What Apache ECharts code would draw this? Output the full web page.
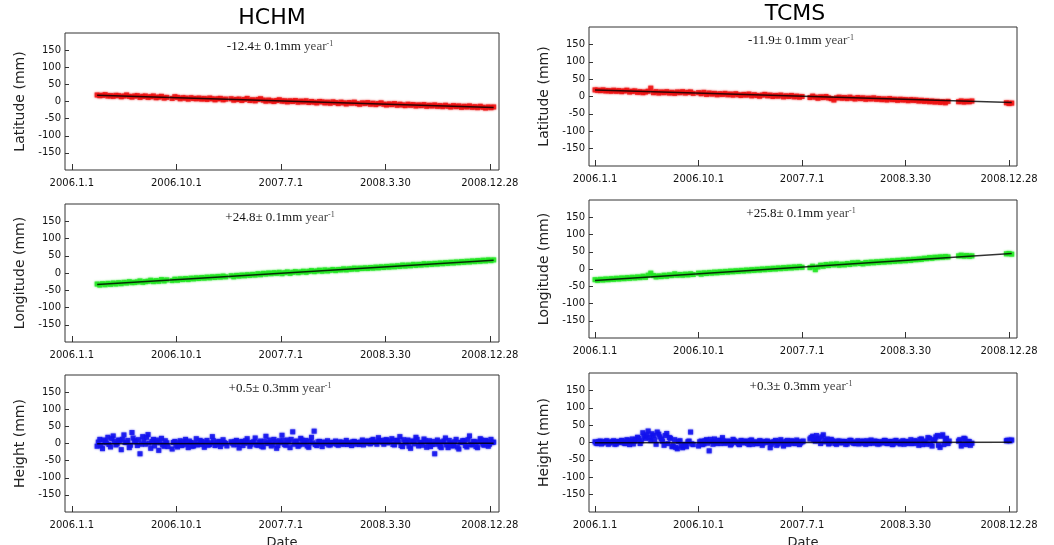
<!DOCTYPE html>
<html>
<head>
<meta charset="utf-8">
<script src="https://cdn.jsdelivr.net/npm/echarts@6/dist/echarts.min.js"></script>
<style>
  html, body { margin: 0; padding: 0; background: #fff; }
  #chart { width: 1054px; height: 545px; }
</style>
</head>
<body>
<div id="chart"></div>
<script>
// Dates are stored as days since 2006-01-01.
const tickDays = [0, 273, 546, 819, 1092];
const tickLabels = ['2006.1.1', '2006.10.1', '2007.7.1', '2008.3.30', '2008.12.28'];
const yTicks = [-150, -100, -50, 0, 50, 100, 150];
const stations = ['HCHM', 'TCMS'];
const components = ['Latitude (mm)', 'Longitude (mm)', 'Height (mm)'];

// ---- HCHM solutions, mm ----
const hchmDays = [
  66,73,80,87,94,101,108,115,122,129,
  136,143,150,157,164,171,178,185,192,199,
  206,213,220,227,234,241,248,
  262,269,
  276,283,290,297,304,311,318,325,332,339,
  346,353,360,367,374,381,388,395,402,
  416,423,430,437,444,451,458,465,472,479,
  486,493,500,507,514,521,528,535,542,549,
  556,563,570,577,584,591,598,605,612,619,
  626,633,640,647,654,661,668,675,682,689,
  696,703,710,717,724,731,738,745,752,759,
  766,773,780,787,794,801,808,815,822,829,
  836,843,850,857,864,871,878,885,892,899,
  906,913,920,927,934,941,948,955,962,969,
  976,983,990,997,1004,1011,1018,1025,1032,1039,
  1046,1053,1060,1067,1074,1081,1088,1095,1102
];
const hchmLat = [
  19,17,18,20,16,17,15,18,17,14,
  16,19,15,13,16,17,12,15,16,12,
  14,16,11,13,15,10,12,
  9,14,
  12,8,11,10,7,11,9,8,10,7,
  9,6,10,8,5,8,9,5,7,
  8,4,6,7,3,6,9,3,5,2,
  6,8,4,1,4,2,0,3,5,1,
  2,-1,2,0,3,-2,1,-1,2,-3,
  0,-2,-4,0,-1,-4,-2,-5,-1,-3,
  -6,-2,-4,-7,-3,-5,-2,-6,-8,-4,
  -6,-3,-8,-5,-9,-6,-4,-8,-10,-7,
  -9,-6,-11,-8,-10,-12,-8,-11,-9,-13,
  -10,-12,-9,-14,-11,-13,-10,-14,-12,-15,
  -11,-14,-16,-12,-15,-13,-17,-14,-16,-13,
  -17,-15,-18,-14,-17,-19,-16,-18,-16
];
const hchmLon = [
  -32,-35,-31,-34,-30,-33,-29,-32,-28,-31,
  -27,-29,-25,-28,-27,-26,-23,-27,-25,-24,
  -21,-25,-22,-24,-19,-23,-20,
  -22,-18,
  -21,-17,-19,-16,-19,-15,-17,-14,-16,-13,
  -15,-12,-14,-11,-13,-10,-12,-9,-11,
  -8,-11,-7,-9,-6,-8,-5,-7,-4,-6,
  -2,-5,-1,-3,0,-2,1,-1,2,-2,
  1,3,-1,2,4,1,3,5,2,5,
  7,4,6,8,5,9,6,8,10,7,
  10,9,12,9,12,11,14,11,14,13,
  15,13,16,14,17,15,18,16,19,17,
  20,18,21,19,23,20,23,21,25,22,
  25,23,27,24,27,25,28,26,29,27,
  30,28,31,29,32,30,33,31,34,32,
  35,33,36,34,37,35,38,36,38
];
const hchmHgt = [
  -8,12,-15,5,18,-10,22,-4,10,-18,
  25,3,-12,32,8,-6,-30,20,-2,26,
  -14,12,4,-20,15,-8,2,
  -16,6,
  -10,8,-4,12,-12,3,-7,14,-2,6,
  -11,9,-3,20,-6,4,-9,11,0,
  5,-4,9,-13,6,1,14,-8,3,16,
  -5,7,-10,21,2,-7,12,-14,8,24,
  -3,10,-12,34,5,-8,15,-2,9,-11,
  18,36,-6,6,-9,3,8,-4,2,7,
  -5,4,-2,9,1,-6,6,3,-3,10,
  2,7,-1,12,4,17,8,-2,11,5,
  14,-4,8,20,-9,3,10,-14,6,18,
  -7,2,13,-11,8,-3,-30,10,-8,4,
  16,-12,2,-6,12,-16,3,8,-10,22,
  -4,5,-12,14,-2,9,-8,12,4
];
// extra height epochs between the weekly samples
const hchmHgtDays2 = [
  69,76,83,90,97,104,111,118,125,132,
  139,146,153,160,167,174,181,188,195,202,
  209,216,223,230,237,244,251,
  265,272,
  279,286,293,300,307,314,321,328,335,342,
  349,356,363,370,377,384,391,398,405,
  419,426,433,440,447,454,461,468,475,482,
  489,496,503,510,517,524,531,538,545,552,
  559,566,573,580,587,594,601,608,615,622,
  629,636,643,650,657,664,671,678,685,692,
  699,706,713,720,727,734,741,748,755,762,
  769,776,783,790,797,804,811,818,825,832,
  839,846,853,860,867,874,881,888,895,902,
  909,916,923,930,937,944,951,958,965,972,
  979,986,993,1000,1007,1014,1021,1028,1035,1042,
  1049,1056,1063,1070,1077,1084,1091,1098
];
const hchmHgt2 = [
  4,-6,10,2,-3,14,6,-1,8,12,
  3,9,-5,16,5,11,-2,7,18,1,
  6,-7,10,2,-4,8,-9,
  3,-5,
  2,-6,5,-2,7,-8,1,-4,9,-3,
  4,-5,2,8,-3,6,-1,3,-7,
  1,6,-3,4,-6,8,2,-2,5,-4,
  3,-8,6,0,10,-3,5,-6,2,9,
  -5,4,12,-2,7,-4,10,3,-7,6,
  2,-3,5,-1,4,0,-4,3,1,-2,
  4,-1,3,-3,2,5,-2,1,4,-4,
  6,1,9,3,-2,8,4,10,2,7,
  -3,9,5,-6,11,2,-8,7,-1,12,
  3,-5,8,1,-9,6,-2,4,-12,7,
  -4,9,-7,5,-10,3,8,-6,11,-3,
  6,-9,4,10,-5,7,-2,3
];

// ---- TCMS solutions, mm ----
const tcmsDays = [
  0,7,14,21,28,35,42,49,56,63,
  70,77,84,91,98,105,112,119,126,133,
  140,147,154,161,168,175,182,189,196,203,
  210,217,224,231,238,245,252,259,
  273,
  280,287,294,301,308,315,322,329,336,343,
  350,357,364,371,378,385,392,399,406,413,
  420,427,434,441,448,455,462,469,476,483,
  490,497,504,511,518,525,532,539,546,
  567,574,581,588,595,602,609,616,623,
  630,637,644,651,658,665,672,679,686,693,
  700,707,714,721,728,735,742,749,756,763,
  770,777,784,791,798,805,812,819,826,833,
  840,847,854,861,868,875,882,889,896,903,
  910,917,924,931,
  959,966,973,980,987,994,
  1085,1092,1099
];
const tcmsLat = [
  19,18,17,19,16,17,15,18,15,17,
  14,16,18,13,15,16,12,14,11,13,
  15,24,11,14,10,13,11,14,10,12,
  9,13,11,14,10,12,13,9,
  11,
  8,12,6,10,7,9,5,8,6,9,
  5,7,4,8,5,3,6,4,7,2,
  5,3,1,4,6,2,4,0,3,1,
  4,-1,2,0,3,-1,1,-2,0,
  -3,1,-2,-5,-1,-3,0,-4,-6,
  -10,-4,-2,-5,-3,-6,-2,-5,-7,-3,
  -6,-4,-8,-5,-7,-4,-8,-6,-9,-7,
  -10,-6,-9,-8,-11,-8,-10,-9,-12,-9,
  -11,-10,-13,-11,-14,-12,-15,-13,-16,-14,
  -17,-15,-18,-14,
  -15,-13,-16,-14,-15,-13,
  -18,-20,-19
];
const tcmsLon = [
  -31,-33,-30,-32,-29,-31,-28,-30,-27,-29,
  -26,-28,-25,-27,-24,-26,-23,-25,-21,-24,
  -18,-12,-19,-23,-20,-22,-18,-21,-17,-19,
  -14,-18,-16,-18,-15,-17,-14,-16,
  -12,
  -15,-11,-13,-10,-12,-9,-11,-8,-10,-7,
  -9,-6,-8,-5,-7,-4,-6,-3,-5,-2,
  -4,-1,-3,0,-2,1,-1,2,0,3,
  1,4,2,5,3,6,4,7,5,
  4,8,-2,6,11,8,13,10,14,
  12,15,11,14,12,16,13,18,15,19,
  16,15,19,17,20,18,21,19,22,20,
  23,21,24,22,25,23,26,24,27,25,
  28,27,29,28,31,30,33,31,34,33,
  35,34,36,35,
  38,40,37,39,37,38,
  44,45,43
];
const tcmsHgt = [
  2,-3,4,-1,3,-5,1,5,-4,2,
  6,-2,8,-6,10,4,15,-3,28,12,
  33,6,20,-5,24,10,-8,26,14,-12,
  8,-18,5,-15,-8,2,30,-6,
  -10,
  4,-4,8,-24,3,10,-3,6,14,-2,
  4,-7,9,1,-4,6,-1,3,-6,7,
  0,-3,5,-8,2,4,-15,1,6,-4,
  8,-10,3,-5,5,-2,7,-6,2,
  10,18,4,12,-3,22,6,-4,9,
  2,-5,4,0,3,-4,6,1,-3,5,
  -1,4,-5,2,7,-2,3,-4,1,6,
  -3,2,-6,4,0,-4,5,2,-3,8,
  -2,4,-8,10,1,-5,12,-10,6,20,
  -14,22,8,-3,
  4,-10,12,-6,3,-2,
  5,6,7
];
// extra height epochs between the weekly samples
const tcmsHgtDays2 = [
  3,10,17,24,31,38,45,52,59,66,
  73,80,87,94,101,108,115,122,129,136,
  143,150,157,164,171,178,185,192,199,206,
  213,220,227,234,241,248,255,
  276,
  283,290,297,304,311,318,325,332,339,346,
  353,360,367,374,381,388,395,402,409,416,
  423,430,437,444,451,458,465,472,479,486,
  493,500,507,514,521,528,535,542,549,
  570,577,584,591,598,605,612,619,626,
  633,640,647,654,661,668,675,682,689,696,
  703,710,717,724,731,738,745,752,759,766,
  773,780,787,794,801,808,815,822,829,836,
  843,850,857,864,871,878,885,892,899,906,
  913,920,927,934,
  962,969,976,983,990,
  1088,1095
];
const tcmsHgt2 = [
  -2,3,-4,1,5,-1,2,-5,3,0,
  4,-3,6,2,-4,9,12,5,18,22,
  14,25,8,30,16,4,20,-3,12,-9,
  -14,3,-10,-6,-12,4,-4,
  2,
  -6,5,-2,9,-5,2,6,-3,4,-1,
  3,-4,5,1,-6,2,4,-2,6,-5,
  2,-3,4,-1,3,0,-5,2,-8,4,
  1,-4,6,-2,3,-3,2,-1,4,
  14,8,20,6,16,2,10,-2,5,
  -3,4,-1,3,-5,2,6,-2,1,-4,
  3,-2,5,-3,1,4,-4,2,-1,5,
  -2,3,-4,6,-1,2,-5,3,0,-3,
  5,-2,9,-6,4,14,-4,8,16,-8,
  18,-6,12,4,
  8,-4,10,2,-8,
  6,5
];

// Linear velocities (mm/year) with their uncertainties, and fitted value at the first epoch
const hchmRates = [-12.4, 24.8, 0.5];
const hchmRateErr = [0.1, 0.1, 0.3];
const hchmFitStart = [18, -33.5, -0.7];
const tcmsRates = [-11.9, 25.8, 0.3];
const tcmsRateErr = [0.1, 0.1, 0.3];
const tcmsFitStart = [18.5, -33, -0.5];

const pointColors = ['#ee1111', '#22e622', '#1111ee'];

const stationData = [
  { days: hchmDays, vals: [hchmLat, hchmLon, hchmHgt], extraDays: hchmHgtDays2, extraHgt: hchmHgt2,
    rates: hchmRates, errs: hchmRateErr, fit: hchmFitStart },
  { days: tcmsDays, vals: [tcmsLat, tcmsLon, tcmsHgt], extraDays: tcmsHgtDays2, extraHgt: tcmsHgt2,
    rates: tcmsRates, errs: tcmsRateErr, fit: tcmsFitStart }
];

// Panel frames in pixels: [column][row]
const frames = [
  [ { left: 65, top: 33, width: 434, height: 137 },
    { left: 65, top: 204, width: 434, height: 138 },
    { left: 65, top: 375, width: 434, height: 137 } ],
  [ { left: 589, top: 27, width: 428, height: 139 },
    { left: 589, top: 200, width: 428, height: 138 },
    { left: 589, top: 373, width: 428, height: 139 } ]
];
const xRanges = [[-18, 1116], [-16, 1113]];
const titleCenters = [[272, 18], [795, 14]];

const grids = [], xAxes = [], yAxes = [], series = [], graphics = [];
const font = 'DejaVu Sans';

function scatterSeries(idx, days, vals, color) {
  return {
    type: 'scatter', xAxisIndex: idx, yAxisIndex: idx,
    data: days.map((d, j) => [d, vals[j]]),
    symbol: 'rect', symbolSize: 5,
    itemStyle: { color: color, shadowBlur: 2, shadowColor: color },
    silent: true, z: 2
  };
}

stationData.forEach((st, c) => {
  graphics.push({
    type: 'text', x: titleCenters[c][0], y: titleCenters[c][1],
    style: { text: stations[c], font: '22px "DejaVu Sans"', fill: '#000', align: 'center', verticalAlign: 'middle' }
  });
  components.forEach((name, r) => {
    const idx = grids.length;
    const fr = frames[c][r];
    grids.push({ left: fr.left, top: fr.top, width: fr.width, height: fr.height,
      outerBoundsMode: 'none', containLabel: false,
      show: true, borderColor: '#333', borderWidth: 1, backgroundColor: '#fff' });
    xAxes.push({
      type: 'value', gridIndex: idx, min: xRanges[c][0], max: xRanges[c][1],
      axisLine: { show: false, onZero: false }, splitLine: { show: false },
      axisTick: { inside: true, length: 6, customValues: tickDays, lineStyle: { color: '#333' } },
      axisLabel: { customValues: tickDays, formatter: v => tickLabels[tickDays.indexOf(v)],
        fontFamily: font, fontSize: 10, color: '#111', margin: 8 },
      name: r === 2 ? 'Date' : '', nameLocation: 'middle', nameGap: 24,
      nameTextStyle: { fontFamily: font, fontSize: 13, color: '#222' }
    });
    yAxes.push({
      type: 'value', gridIndex: idx, min: -200, max: 200,
      axisLine: { show: false, onZero: false }, splitLine: { show: false },
      axisTick: { inside: true, length: 4, customValues: yTicks, lineStyle: { color: '#333' } },
      axisLabel: { customValues: yTicks, fontFamily: font, fontSize: 10, color: '#111', margin: 4 },
      name: name, nameLocation: 'middle', nameGap: 38,
      nameTextStyle: { fontFamily: font, fontSize: 14, color: '#222' }
    });
    series.push(scatterSeries(idx, st.days, st.vals[r], pointColors[r]));
    if (r === 2) series.push(scatterSeries(idx, st.extraDays, st.extraHgt, pointColors[r]));
    const d0 = st.days[0], d1 = st.days[st.days.length - 1];
    const y0 = st.fit[r];
    const y1 = y0 + st.rates[r] * (d1 - d0) / 365.25;
    series.push({
      type: 'line', xAxisIndex: idx, yAxisIndex: idx,
      data: [[d0, y0], [d1, y1]], symbol: 'none', silent: true,
      lineStyle: { color: '#000', width: 1.5, opacity: 0.8 }, z: 3
    });
    const rate = st.rates[r];
    const sign = rate < 0 ? '-' : '+';
    graphics.push({
      type: 'text', x: fr.left + fr.width / 2 - 2, y: fr.top + 14,
      style: {
        text: '{n|' + sign + Math.abs(rate).toFixed(1) + '\u00b1 ' + st.errs[r].toFixed(1) + 'mm} {y|year}{s|-1}',
        align: 'center', verticalAlign: 'middle',
        rich: {
          n: { fontFamily: 'Liberation Serif', fontSize: 13, fill: '#111', lineHeight: 15 },
          y: { fontFamily: 'Liberation Serif', fontSize: 13, fill: '#444', lineHeight: 15 },
          s: { fontFamily: 'Liberation Serif', fontSize: 8, fill: '#444', verticalAlign: 'top' }
        }
      },
      z: 10
    });
  });
});

const chart = echarts.init(document.getElementById('chart'), null, { renderer: 'canvas' });
chart.setOption({
  animation: false,
  backgroundColor: '#fff',
  grid: grids, xAxis: xAxes, yAxis: yAxes, series: series,
  graphic: graphics
});
</script>
</body>
</html>
